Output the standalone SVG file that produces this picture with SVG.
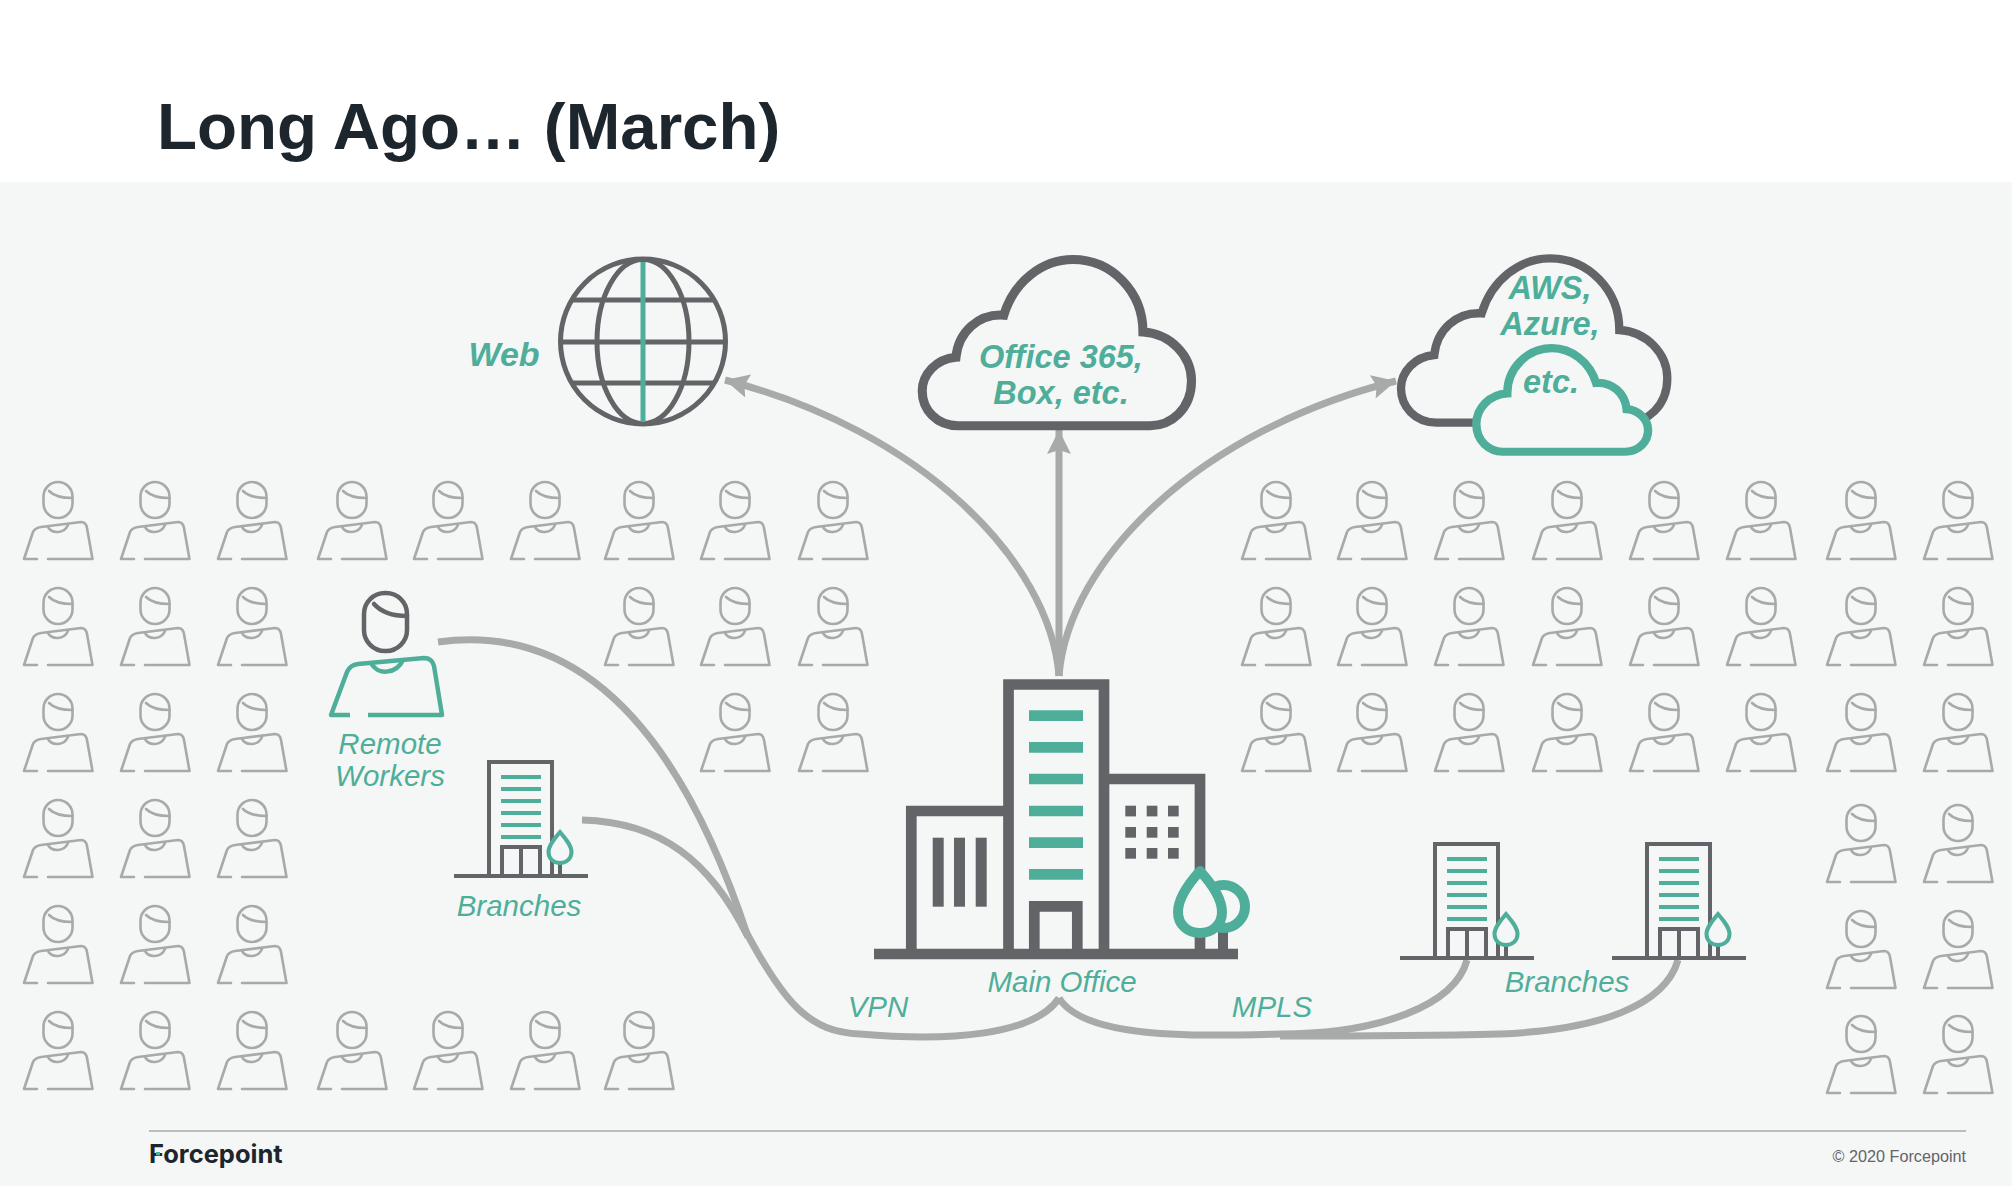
<svg xmlns="http://www.w3.org/2000/svg" xmlns:xlink="http://www.w3.org/1999/xlink" width="2012" height="1186" viewBox="0 0 2012 1186">
<style>
text{font-family:"Liberation Sans",Arial,sans-serif;fill:#4fae9a}
.lab{font-size:29.500px;font-style:italic;text-anchor:middle}
.bi{font-size:32.500px;font-weight:bold;font-style:italic;text-anchor:middle}
.dk{fill:none;stroke:#636467}
.tl{fill:none;stroke:#4fae9a}
.bgf{fill:#f5f7f6}
.conn{fill:none;stroke:#a8a9a9;stroke-width:7}
.pp{fill:none;stroke:#a8a9a9;stroke-width:2.600;stroke-linecap:round;stroke-linejoin:round}
</style>
<defs>
<marker id="ah" markerUnits="userSpaceOnUse" markerWidth="26" markerHeight="24" refX="24" refY="12" orient="auto"><path d="M0 0L24 12L0 24L4 12Z" fill="#a8a9a9"/></marker>
<g id="person" class="pp">
<rect x="-14.500" y="0" width="29" height="36" rx="14.500" ry="14.500"/>
<path d="M-9 9C-4 14 6 16 14.500 16"/>
<path d="M-21 77H-34L-25 50Q-23 46-17 45L23 40Q28 40 29 46L34.500 77H-10"/>
<path d="M-10 45C-6 52 6 52 10 43"/>
</g>
<g id="branch">
<path class="dk" stroke-width="4" d="M35 0V-114H98V0"/>
<path class="dk" stroke-width="4" d="M48 0V-29H86V0M67-29V0"/>
<path class="tl" stroke-width="4" d="M47-99H87M47-87H87M47-75H87M47-63H87M47-51H87M47-39H87"/>
<path class="dk" stroke-width="4" d="M0 0H134"/>
<path class="dk" stroke-width="4" d="M106-13V0" />
<path class="bgf" stroke="#4fae9a" stroke-width="4" transform="translate(106 -44)" d="M0 0C5 6 11.500 13 11.500 20C11.500 27 6 31 0 31C-6 31-11.500 27-11.500 20C-11.500 13-5 6 0 0Z"/>
</g>
<path id="cloud" d="M170 548C105 548 63 500 63 445C63 395 105 350 163 345C170 270 230 215 305 220C335 120 420 55 510 55C625 55 718 150 718 270C800 275 862 340 862 415C862 500 800 548 740 548Z"/>
</defs>

<rect width="2012" height="1186" fill="#ffffff"/>
<rect y="182" width="2012" height="1004" fill="#f5f7f6"/>
<text id="title" x="157" y="149" font-size="65.500" font-weight="bold" style="fill:#1d252d">Long Ago… (March)</text>

<g id="crowd">
<use href="#person" x="58" y="482"/><use href="#person" x="155" y="482"/><use href="#person" x="252" y="482"/><use href="#person" x="352" y="482"/><use href="#person" x="448" y="482"/><use href="#person" x="545" y="482"/><use href="#person" x="639" y="482"/><use href="#person" x="735" y="482"/><use href="#person" x="833" y="482"/>
<use href="#person" x="58" y="588"/><use href="#person" x="155" y="588"/><use href="#person" x="252" y="588"/><use href="#person" x="639" y="588"/><use href="#person" x="735" y="588"/><use href="#person" x="833" y="588"/>
<use href="#person" x="58" y="694"/><use href="#person" x="155" y="694"/><use href="#person" x="252" y="694"/><use href="#person" x="735" y="694"/><use href="#person" x="833" y="694"/>
<use href="#person" x="58" y="800"/><use href="#person" x="155" y="800"/><use href="#person" x="252" y="800"/>
<use href="#person" x="58" y="906"/><use href="#person" x="155" y="906"/><use href="#person" x="252" y="906"/>
<use href="#person" x="58" y="1012"/><use href="#person" x="155" y="1012"/><use href="#person" x="252" y="1012"/><use href="#person" x="352" y="1012"/><use href="#person" x="448" y="1012"/><use href="#person" x="545" y="1012"/><use href="#person" x="639" y="1012"/>
<use href="#person" x="1276" y="482"/><use href="#person" x="1372" y="482"/><use href="#person" x="1469" y="482"/><use href="#person" x="1567" y="482"/><use href="#person" x="1664" y="482"/><use href="#person" x="1761" y="482"/><use href="#person" x="1861" y="482"/><use href="#person" x="1958" y="482"/>
<use href="#person" x="1276" y="588"/><use href="#person" x="1372" y="588"/><use href="#person" x="1469" y="588"/><use href="#person" x="1567" y="588"/><use href="#person" x="1664" y="588"/><use href="#person" x="1761" y="588"/><use href="#person" x="1861" y="588"/><use href="#person" x="1958" y="588"/>
<use href="#person" x="1276" y="694"/><use href="#person" x="1372" y="694"/><use href="#person" x="1469" y="694"/><use href="#person" x="1567" y="694"/><use href="#person" x="1664" y="694"/><use href="#person" x="1761" y="694"/><use href="#person" x="1861" y="694"/><use href="#person" x="1958" y="694"/>
<use href="#person" x="1861" y="805"/><use href="#person" x="1958" y="805"/>
<use href="#person" x="1861" y="911"/><use href="#person" x="1958" y="911"/>
<use href="#person" x="1861" y="1016"/><use href="#person" x="1958" y="1016"/>
</g>

<g id="connectors">
<path class="conn" marker-end="url(#ah)" d="M1059 676C1050 560 920 430 725 380"/>
<path class="conn" marker-end="url(#ah)" d="M1059 676V430"/>
<path class="conn" marker-end="url(#ah)" d="M1059 676C1068 560 1200 430 1396 381"/>
<path class="conn" d="M438 642C560 625 670 700 748 937"/>
<path class="conn" d="M582 820C660 822 710 860 748 937"/>
<path class="conn" d="M745 930C785 1005 810 1032 860 1034C950 1042 1035 1035 1059 998"/>
<path class="conn" d="M1059 998C1085 1040 1200 1036 1280 1034C1380 1034 1455 1005 1467 960"/>
<path class="conn" d="M1280 1036C1340 1036 1420 1036 1500 1034C1600 1030 1665 1005 1678 960"/>
</g>

<g id="web">
<circle class="dk" cx="643" cy="341.500" r="82.500" stroke-width="5"/>
<ellipse class="dk" cx="643" cy="341.500" rx="46" ry="82" stroke-width="5"/>
<path class="dk" stroke-width="5" d="M572 300H714M561 342H725M572 383H714"/>
<path class="tl" stroke-width="5" d="M643 262V422"/>
<text x="504" y="366" text-anchor="middle" font-size="34" font-weight="bold" font-style="italic">Web</text>
</g>

<g id="saas">
<use href="#cloud" transform="translate(901 241) scale(.337)" fill="none" stroke="#636467" stroke-width="27"/>
<text class="bi" x="1061" y="368">Office 365,</text>
<text class="bi" x="1061" y="404">Box, etc.</text>
</g>

<g id="iaas">
<use href="#cloud" transform="translate(1380 240) scale(.3333)" fill="none" stroke="#636467" stroke-width="25"/>
<text class="bi" x="1550" y="299">AWS,</text>
<text class="bi" x="1550" y="335">Azure,</text>
<use href="#cloud" transform="translate(1380 240) scale(.3333) translate(845 290) scale(-.645 .63)" fill="#f5f7f6" stroke="#4fae9a" stroke-width="39"/>
<text class="bi" x="1551" y="393">etc.</text>
</g>

<g id="remote-worker">
<rect class="dk" x="364" y="593" width="43" height="58" rx="21" ry="21" stroke-width="4.500"/>
<path class="dk" stroke-width="4.500" stroke-linecap="round" d="M374 604C382 613 394 616 407 616"/>
<path class="tl" stroke-width="4.500" stroke-linejoin="round" d="M350 715H331L347 672Q350 665 358 664L424 658Q432 658 434 666L442 715H368"/>
<path class="tl" stroke-width="4.500" d="M371 663C377 675 396 675 403 660"/>
<text class="lab" x="390" y="754">Remote</text>
<text class="lab" x="390" y="786">Workers</text>
</g>

<g id="branch-left">
<use href="#branch" x="454" y="876"/>
<text class="lab" x="519" y="916">Branches</text>
</g>

<g id="main-office">
<path class="dk" stroke-width="10.700" d="M874 954H1238"/>
<path class="dk" stroke-width="10.700" d="M1008.500 954V684.500H1104V954"/>
<path class="dk" stroke-width="10.700" d="M911.300 954V811H1008.500"/>
<path class="dk" stroke-width="10.700" d="M1104 779H1200V954"/>
<path class="dk" stroke-width="10.700" d="M1034.300 954V906.300H1077.300V954"/>
<path class="tl" stroke-width="10.700" d="M1029 715.700H1083M1029 747.300H1083M1029 779H1083M1029 811H1083M1029 842.700H1083M1029 874.300H1083"/>
<g fill="#636467">
<rect x="932.700" y="837.700" width="11" height="69"/><rect x="954" y="837.700" width="11" height="69"/><rect x="975.700" y="837.700" width="11" height="69"/>
<rect x="1125.300" y="805.700" width="10.700" height="10.700"/><rect x="1146.700" y="805.700" width="10.700" height="10.700"/><rect x="1168" y="805.700" width="10.700" height="10.700"/>
<rect x="1125.300" y="827" width="10.700" height="10.700"/><rect x="1146.700" y="827" width="10.700" height="10.700"/><rect x="1168" y="827" width="10.700" height="10.700"/>
<rect x="1125.300" y="848" width="10.700" height="10.700"/><rect x="1146.700" y="848" width="10.700" height="10.700"/><rect x="1168" y="848" width="10.700" height="10.700"/>
</g>
<path class="dk" stroke-width="10" d="M1223 925V954"/>
<circle class="bgf" cx="1223.500" cy="906.500" r="21.500" stroke="#4fae9a" stroke-width="10"/>
<path class="bgf" stroke="#4fae9a" stroke-width="10" stroke-linejoin="round" d="M1200 871C1210 882 1222 897 1222 912C1222 925 1212 933 1200 933C1188 933 1178 925 1178 912C1178 897 1190 882 1200 871Z"/>
<text class="lab" x="1062" y="992">Main Office</text>
</g>

<g id="branch-right-1"><use href="#branch" x="1400" y="958"/></g>
<g id="branch-right-2"><use href="#branch" x="1612" y="958"/></g>
<text id="branches-label" class="lab" x="1567" y="992">Branches</text>
<text id="vpn-label" class="lab" x="878" y="1017">VPN</text>
<text id="mpls-label" class="lab" x="1272" y="1017">MPLS</text>

<g id="footer">
<path d="M149 1131H1966" stroke="#a8a9a9" stroke-width="1.500"/>
<text x="149" y="1163" font-size="25.500" font-weight="700" style="font-family:Inter,'Liberation Sans',sans-serif;fill:#1d252d">Forcepoint</text>
<rect x="156" y="1152" width="4" height="3.500" fill="#4fae9a"/>
<text x="1966" y="1162" text-anchor="end" font-size="16.200" style="fill:#636467">© 2020 Forcepoint</text>
</g>
</svg>
